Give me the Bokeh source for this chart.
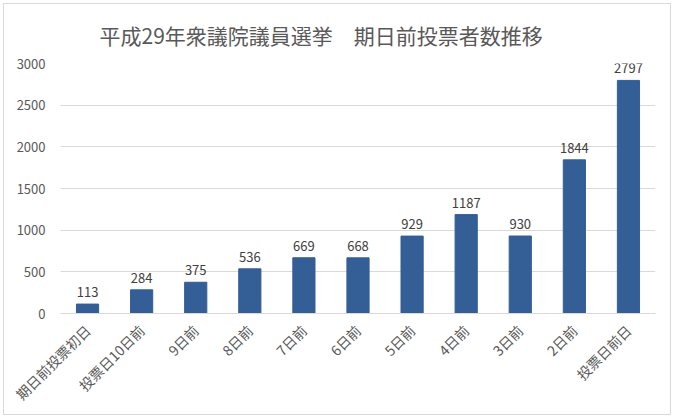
from bokeh.plotting import figure
from bokeh.models import ColumnDataSource, FactorRange, Range1d, SingleIntervalTicker, LabelSet
from bokeh.core.properties import value
from bokeh.embed import file_html
from bokeh.resources import INLINE
import math

title_text = "平成29年衆議院議員選挙　期日前投票者数推移"
categories = ["期日前投票初日", "投票日10日前", "9日前", "8日前", "7日前", "6日前",
              "5日前", "4日前", "3日前", "2日前", "投票日前日"]
voters = [113, 284, 375, 536, 669, 668, 929, 1187, 930, 1844, 2797]

FONT = "Noto Sans CJK JP"

src = ColumnDataSource(dict(cat=categories, val=voters, lab=[str(v) for v in voters]))

p = figure(x_range=FactorRange(*categories), y_range=Range1d(0, 3000),
           width=668, height=412, output_backend="svg", toolbar_location=None,
           min_border_left=56, min_border_right=17, min_border_top=58, min_border_bottom=103,
           title=title_text)
p.styles = {"border": "1px solid #d9d9d9", "box-sizing": "border-box",
            "margin-left": "3px", "margin-top": "3px"}
p.title.align = "left"
p.title.offset = 39
p.title.text_font = FONT
p.title.text_font_size = "21px"
p.title.text_font_style = "normal"
p.title.text_color = "#595959"
p.title.text_line_height = 0.6
p.title.standoff = 27
p.x_range.range_padding = 0
p.outline_line_color = None
p.background_fill_color = "white"

p.vbar(x="cat", top="val", width=0.41, source=src, color="#335E96")

labels = LabelSet(x="cat", y="val", text="lab", source=src, text_align="center",
                  y_offset=7, text_font=value(FONT), text_font_size="13px", text_color="#404040")
p.add_layout(labels)

p.yaxis.ticker = SingleIntervalTicker(interval=500)
p.yaxis.axis_line_color = None
p.yaxis.major_tick_line_color = None
p.yaxis.minor_tick_line_color = None
p.yaxis.major_label_text_font = FONT
p.yaxis.major_label_text_font_size = "13px"
p.yaxis.major_label_text_color = "#595959"
p.yaxis.major_label_standoff = 9

p.xaxis.axis_line_color = "#d9d9d9"
p.xaxis.major_tick_line_color = None
p.xaxis.minor_tick_line_color = None
p.xaxis.major_label_orientation = math.pi / 4
p.xaxis.major_label_text_font = FONT
p.xaxis.major_label_text_font_size = "14px"
p.xaxis.major_label_text_color = "#595959"
p.xaxis.major_label_standoff = 8

p.xgrid.grid_line_color = None
p.ygrid.grid_line_color = "#d9d9d9"

open("out.html", "w").write(file_html(p, INLINE))
